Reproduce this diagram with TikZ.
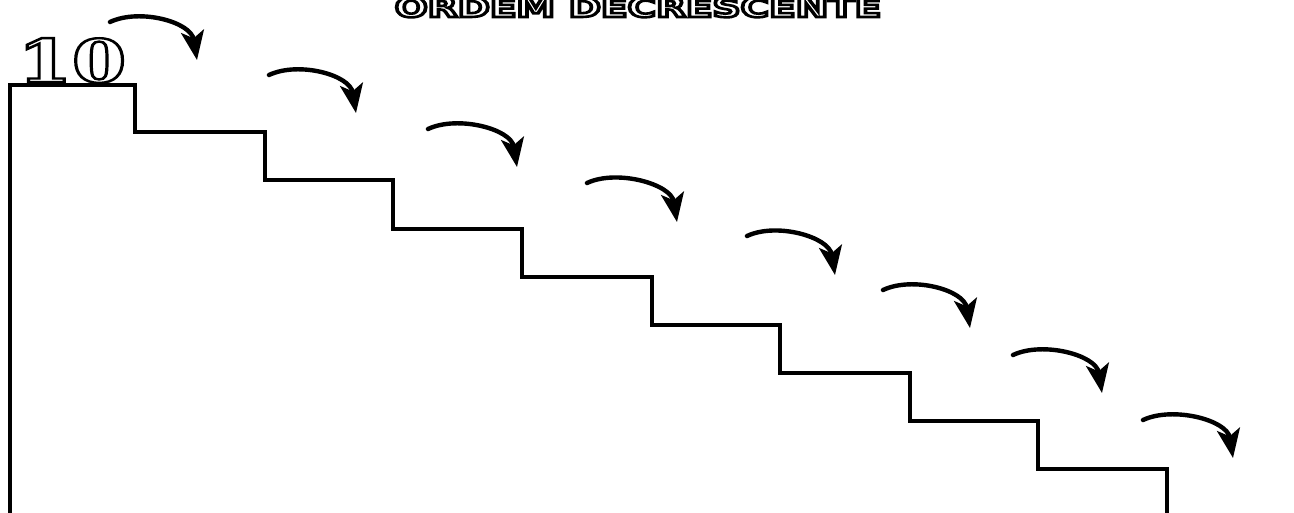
\documentclass[tikz,border=0pt]{standalone}
\usepackage{fontspec}
\usetikzlibrary{arrows.meta,calc}
\newfontfamily\titlefont{DejaVu Sans}
\newfontfamily\numfont{DejaVu Serif}
\newcommand{\outlinetext}[2]{\special{pdf:literal direct 2 Tr #1 w 0 0 0 RG 1 1 1 rg}#2\special{pdf:literal direct 0 Tr 0 0 0 rg}}
\tikzset{
  stairline/.style={line width=3.2pt, line join=miter},
  jump/.style={line width=4.4pt, line cap=round, -{Stealth[length=29pt,width=23pt,inset=7pt]}},
}
\begin{document}
\begin{tikzpicture}[x=1pt,y=-1pt]
\useasboundingbox (0,0) rectangle (1294,513);
% title
\node[anchor=base, inner sep=0pt] (title) at (638,17)
  {\scalebox{1.44}[1]{\titlefont\bfseries\fontsize{27}{27}\selectfont\outlinetext{2.6}{ORDEM DECRESCENTE}}};
% number
\node[anchor=base, inner sep=0pt] (ten) at (72,82)
  {\scalebox{1.32}[1]{\numfont\bfseries\fontsize{59}{59}\selectfont\outlinetext{2.4}{10}}};
% stairs
\draw[stairline] (10,513) -- (10,85) -- (135,85) -- (135,132) -- (265,132) -- (265,180)
  -- (393,180) -- (393,229) -- (522,229) -- (522,277) -- (652,277) -- (652,325)
  -- (780,325) -- (780,373) -- (910,373) -- (910,421) -- (1038,421) -- (1038,469)
  -- (1167,469) -- (1167,513);
% arrows
\foreach \sx/\sy/\tx/\ty in {110/22/197/60, 269/75/356/113, 428/129/517/167, 587/183/677/222,
    747/236/835/275, 883/290/970/328, 1013/355/1102/393, 1143/420/1233/458}{
  \coordinate (s) at (\sx,\sy);
  \coordinate (t) at (\tx,\ty);
  \draw[jump] (s) .. controls ($(s)+(30,-14)$) and ($(t)+(-6,-38)$) .. (t);
}
\end{tikzpicture}
\end{document}
